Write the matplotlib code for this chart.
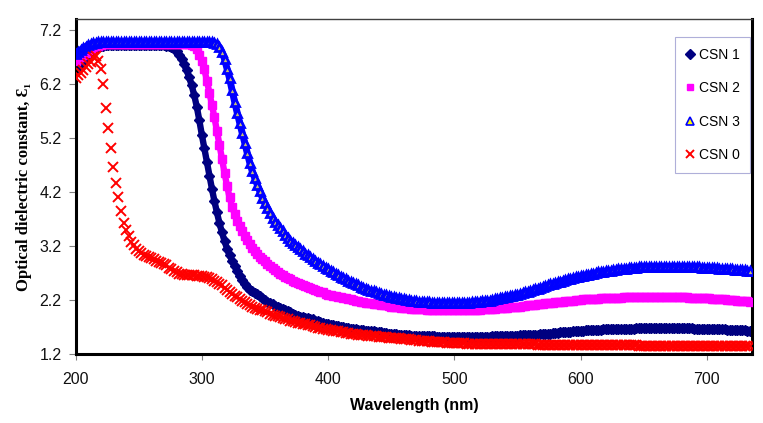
import numpy as np
import matplotlib
matplotlib.use("Agg")
import matplotlib.pyplot as plt

# ---------------- data (2 nm steps) ----------------
wavelength = np.arange(200, 736, 2)  # 200 ... 734 nm

csn1 = [
    6.43, 6.50, 6.57, 6.63, 6.69, 6.75, 6.79, 6.83, 6.86, 6.88,
    6.90, 6.91, 6.92, 6.92, 6.92, 6.92, 6.92, 6.92, 6.92, 6.92,
    6.92, 6.92, 6.92, 6.92, 6.92, 6.92, 6.92, 6.92, 6.92, 6.92,
    6.92, 6.92, 6.92, 6.92, 6.92, 6.92, 6.91, 6.90, 6.88, 6.84,
    6.80, 6.74, 6.66, 6.56, 6.45, 6.32, 6.17, 5.99, 5.78, 5.53,
    5.26, 5.01, 4.75, 4.50, 4.26, 4.03, 3.82, 3.62, 3.45, 3.29,
    3.15, 3.03, 2.93, 2.83, 2.73, 2.64, 2.57, 2.50, 2.44, 2.39,
    2.36, 2.33, 2.31, 2.27, 2.23, 2.20, 2.17, 2.15, 2.12, 2.09,
    2.07, 2.05, 2.03, 2.01, 1.99, 1.97, 1.95, 1.93, 1.91, 1.89,
    1.88, 1.87, 1.86, 1.85, 1.84, 1.82, 1.81, 1.79, 1.78, 1.76,
    1.75, 1.74, 1.73, 1.72, 1.71, 1.70, 1.70, 1.69, 1.68, 1.67,
    1.66, 1.66, 1.65, 1.65, 1.64, 1.63, 1.63, 1.62, 1.62, 1.61,
    1.60, 1.60, 1.59, 1.59, 1.58, 1.58, 1.57, 1.57, 1.56, 1.56,
    1.55, 1.55, 1.55, 1.54, 1.54, 1.54, 1.54, 1.53, 1.53, 1.53,
    1.53, 1.53, 1.53, 1.52, 1.52, 1.52, 1.52, 1.52, 1.52, 1.52,
    1.52, 1.52, 1.52, 1.52, 1.52, 1.52, 1.52, 1.52, 1.52, 1.52,
    1.52, 1.52, 1.52, 1.52, 1.52, 1.53, 1.53, 1.53, 1.53, 1.53,
    1.53, 1.53, 1.54, 1.54, 1.54, 1.54, 1.55, 1.55, 1.55, 1.55,
    1.55, 1.56, 1.56, 1.56, 1.57, 1.57, 1.58, 1.58, 1.58, 1.59,
    1.59, 1.59, 1.60, 1.60, 1.61, 1.61, 1.61, 1.62, 1.62, 1.63,
    1.63, 1.63, 1.64, 1.64, 1.64, 1.65, 1.65, 1.65, 1.65, 1.66,
    1.66, 1.66, 1.66, 1.66, 1.67, 1.67, 1.67, 1.67, 1.67, 1.67,
    1.67, 1.67, 1.68, 1.68, 1.68, 1.68, 1.68, 1.68, 1.68, 1.68,
    1.68, 1.68, 1.68, 1.68, 1.68, 1.68, 1.68, 1.68, 1.68, 1.68,
    1.68, 1.68, 1.68, 1.68, 1.68, 1.67, 1.67, 1.67, 1.67, 1.67,
    1.67, 1.67, 1.67, 1.66, 1.66, 1.66, 1.66, 1.66, 1.65, 1.65,
    1.65, 1.65, 1.64, 1.64, 1.64, 1.64, 1.63, 1.63,
]

csn2 = [
    6.62, 6.66, 6.70, 6.74, 6.78, 6.82, 6.85, 6.88, 6.90, 6.91,
    6.92, 6.93, 6.93, 6.93, 6.93, 6.93, 6.93, 6.93, 6.93, 6.93,
    6.93, 6.93, 6.93, 6.93, 6.93, 6.93, 6.93, 6.93, 6.93, 6.93,
    6.93, 6.93, 6.93, 6.93, 6.93, 6.93, 6.93, 6.93, 6.93, 6.93,
    6.93, 6.93, 6.93, 6.93, 6.93, 6.93, 6.92, 6.90, 6.84, 6.74,
    6.62, 6.47, 6.26, 6.04, 5.81, 5.58, 5.33, 5.07, 4.81, 4.55,
    4.31, 4.10, 3.93, 3.79, 3.67, 3.57, 3.48, 3.39, 3.31, 3.23,
    3.16, 3.10, 3.05, 3.00, 2.96, 2.92, 2.87, 2.83, 2.79, 2.75,
    2.72, 2.69, 2.66, 2.63, 2.61, 2.58, 2.56, 2.53, 2.51, 2.49,
    2.47, 2.46, 2.44, 2.42, 2.41, 2.39, 2.37, 2.35, 2.34, 2.32,
    2.30, 2.29, 2.28, 2.27, 2.26, 2.25, 2.24, 2.23, 2.22, 2.21,
    2.20, 2.19, 2.18, 2.17, 2.16, 2.15, 2.15, 2.14, 2.13, 2.12,
    2.12, 2.11, 2.10, 2.10, 2.09, 2.08, 2.08, 2.07, 2.07, 2.06,
    2.06, 2.05, 2.05, 2.04, 2.04, 2.04, 2.03, 2.03, 2.03, 2.02,
    2.02, 2.02, 2.02, 2.01, 2.01, 2.01, 2.01, 2.01, 2.01, 2.01,
    2.01, 2.01, 2.01, 2.01, 2.02, 2.02, 2.02, 2.02, 2.02, 2.02,
    2.02, 2.03, 2.03, 2.03, 2.04, 2.04, 2.04, 2.05, 2.05, 2.06,
    2.06, 2.06, 2.07, 2.07, 2.08, 2.08, 2.08, 2.09, 2.09, 2.10,
    2.10, 2.11, 2.11, 2.12, 2.12, 2.13, 2.14, 2.14, 2.15, 2.15,
    2.16, 2.16, 2.17, 2.17, 2.18, 2.18, 2.19, 2.19, 2.20, 2.20,
    2.20, 2.21, 2.21, 2.21, 2.22, 2.22, 2.22, 2.22, 2.23, 2.23,
    2.23, 2.23, 2.24, 2.24, 2.24, 2.24, 2.24, 2.25, 2.25, 2.25,
    2.25, 2.25, 2.25, 2.25, 2.26, 2.26, 2.26, 2.26, 2.26, 2.26,
    2.26, 2.26, 2.26, 2.26, 2.26, 2.26, 2.26, 2.25, 2.25, 2.25,
    2.25, 2.25, 2.25, 2.24, 2.24, 2.24, 2.24, 2.23, 2.23, 2.23,
    2.23, 2.23, 2.22, 2.22, 2.22, 2.21, 2.21, 2.21, 2.20, 2.20,
    2.20, 2.20, 2.19, 2.19, 2.18, 2.18, 2.18, 2.17,
]

csn3 = [
    6.75, 6.79, 6.83, 6.86, 6.89, 6.92, 6.94, 6.95, 6.96, 6.97,
    6.97, 6.97, 6.97, 6.97, 6.97, 6.97, 6.97, 6.97, 6.97, 6.97,
    6.97, 6.97, 6.97, 6.97, 6.97, 6.97, 6.97, 6.97, 6.97, 6.97,
    6.97, 6.97, 6.97, 6.97, 6.97, 6.97, 6.97, 6.97, 6.97, 6.97,
    6.97, 6.97, 6.97, 6.97, 6.97, 6.97, 6.97, 6.97, 6.97, 6.97,
    6.97, 6.97, 6.97, 6.97, 6.97, 6.96, 6.93, 6.88, 6.79, 6.66,
    6.48, 6.30, 6.08, 5.87, 5.67, 5.48, 5.29, 5.11, 4.92, 4.74,
    4.58, 4.45, 4.33, 4.21, 4.09, 3.99, 3.90, 3.81, 3.72, 3.65,
    3.59, 3.53, 3.47, 3.41, 3.35, 3.30, 3.26, 3.22, 3.18, 3.14,
    3.10, 3.06, 3.03, 2.99, 2.96, 2.93, 2.89, 2.86, 2.83, 2.80,
    2.77, 2.74, 2.71, 2.68, 2.66, 2.63, 2.60, 2.58, 2.55, 2.53,
    2.51, 2.49, 2.47, 2.45, 2.43, 2.41, 2.39, 2.37, 2.36, 2.34,
    2.33, 2.31, 2.30, 2.29, 2.27, 2.26, 2.25, 2.24, 2.23, 2.22,
    2.21, 2.20, 2.20, 2.19, 2.18, 2.18, 2.17, 2.17, 2.16, 2.16,
    2.16, 2.15, 2.15, 2.15, 2.14, 2.14, 2.14, 2.14, 2.14, 2.14,
    2.14, 2.14, 2.14, 2.14, 2.15, 2.15, 2.15, 2.16, 2.16, 2.17,
    2.17, 2.18, 2.18, 2.19, 2.19, 2.20, 2.21, 2.22, 2.23, 2.24,
    2.25, 2.26, 2.27, 2.28, 2.29, 2.30, 2.31, 2.33, 2.34, 2.35,
    2.37, 2.38, 2.40, 2.41, 2.43, 2.44, 2.46, 2.47, 2.49, 2.50,
    2.51, 2.53, 2.54, 2.56, 2.57, 2.58, 2.59, 2.61, 2.62, 2.63,
    2.64, 2.65, 2.66, 2.67, 2.68, 2.69, 2.70, 2.71, 2.71, 2.72,
    2.73, 2.74, 2.74, 2.75, 2.76, 2.77, 2.77, 2.78, 2.78, 2.79,
    2.80, 2.80, 2.80, 2.81, 2.81, 2.81, 2.81, 2.82, 2.82, 2.82,
    2.82, 2.82, 2.82, 2.82, 2.82, 2.82, 2.82, 2.82, 2.82, 2.82,
    2.82, 2.82, 2.82, 2.81, 2.81, 2.81, 2.81, 2.81, 2.80, 2.80,
    2.80, 2.80, 2.79, 2.79, 2.79, 2.78, 2.78, 2.78, 2.77, 2.77,
    2.77, 2.76, 2.76, 2.76, 2.75, 2.75, 2.74, 2.74,
]

csn0 = [
    6.31, 6.36, 6.40, 6.46, 6.52, 6.56, 6.61, 6.70, 6.72, 6.62,
    6.48, 6.20, 5.76, 5.38, 5.02, 4.67, 4.36, 4.10, 3.84, 3.63,
    3.50, 3.38, 3.28, 3.21, 3.15, 3.11, 3.07, 3.04, 3.02, 2.99,
    2.97, 2.95, 2.92, 2.90, 2.88, 2.86, 2.84, 2.80, 2.77, 2.74,
    2.71, 2.69, 2.68, 2.67, 2.67, 2.66, 2.66, 2.66, 2.65, 2.65,
    2.64, 2.63, 2.62, 2.61, 2.59, 2.56, 2.53, 2.50, 2.47, 2.43,
    2.39, 2.35, 2.31, 2.28, 2.25, 2.22, 2.19, 2.16, 2.13, 2.10,
    2.08, 2.06, 2.04, 2.02, 2.01, 1.99, 1.97, 1.95, 1.93, 1.91,
    1.90, 1.88, 1.87, 1.85, 1.84, 1.82, 1.81, 1.80, 1.78, 1.77,
    1.76, 1.75, 1.74, 1.73, 1.71, 1.70, 1.69, 1.68, 1.67, 1.66,
    1.65, 1.64, 1.63, 1.62, 1.62, 1.61, 1.60, 1.59, 1.59, 1.58,
    1.57, 1.57, 1.56, 1.56, 1.55, 1.55, 1.54, 1.54, 1.53, 1.53,
    1.52, 1.52, 1.51, 1.51, 1.50, 1.50, 1.50, 1.49, 1.49, 1.48,
    1.48, 1.47, 1.47, 1.46, 1.46, 1.46, 1.45, 1.45, 1.44, 1.44,
    1.44, 1.43, 1.43, 1.43, 1.42, 1.42, 1.42, 1.41, 1.41, 1.41,
    1.40, 1.40, 1.40, 1.40, 1.40, 1.39, 1.39, 1.39, 1.39, 1.39,
    1.39, 1.39, 1.39, 1.39, 1.38, 1.38, 1.38, 1.38, 1.38, 1.38,
    1.38, 1.38, 1.38, 1.38, 1.38, 1.38, 1.38, 1.38, 1.38, 1.38,
    1.38, 1.38, 1.38, 1.37, 1.37, 1.37, 1.37, 1.37, 1.37, 1.37,
    1.37, 1.37, 1.37, 1.37, 1.37, 1.37, 1.37, 1.37, 1.37, 1.37,
    1.37, 1.37, 1.37, 1.37, 1.37, 1.36, 1.36, 1.36, 1.36, 1.36,
    1.36, 1.36, 1.36, 1.36, 1.36, 1.36, 1.36, 1.36, 1.36, 1.36,
    1.36, 1.36, 1.36, 1.35, 1.35, 1.35, 1.35, 1.35, 1.35, 1.35,
    1.35, 1.35, 1.35, 1.35, 1.35, 1.35, 1.35, 1.35, 1.35, 1.35,
    1.35, 1.35, 1.35, 1.35, 1.35, 1.34, 1.34, 1.34, 1.34, 1.34,
    1.34, 1.34, 1.34, 1.34, 1.34, 1.34, 1.34, 1.34, 1.34, 1.34,
    1.34, 1.34, 1.34, 1.34, 1.34, 1.34, 1.34, 1.34,
]

series_labels = ["CSN 1", "CSN 2", "CSN 3", "CSN 0"]
x_ticks = [200, 300, 400, 500, 600, 700]
y_ticks = [1.2, 2.2, 3.2, 4.2, 5.2, 6.2, 7.2]

# ---------------- figure ----------------
fig = plt.figure(figsize=(7.63, 4.23), dpi=100)
ax = fig.add_axes([0.099, 0.163, 0.887, 0.792])

sans = ["Liberation Sans", "DejaVu Sans"]
serif = ["Liberation Serif", "DejaVu Serif"]

# CSN 1 - navy diamonds
ax.plot(wavelength, csn1, color="#000080", lw=4.6, zorder=2, solid_capstyle="round")
ax.plot(wavelength, csn1, ls="none", marker="D", ms=5.6, color="#000080",
        mec="#000080", zorder=2.1, label=series_labels[0])
# CSN 2 - magenta squares
ax.plot(wavelength, csn2, color="#ff00ff", lw=4.6, zorder=3, solid_capstyle="round")
ax.plot(wavelength, csn2, ls="none", marker="s", ms=5.4, color="#ff00ff",
        mec="#ff00ff", zorder=3.1, label=series_labels[1])
# CSN 3 - blue triangles, yellow face
ax.plot(wavelength, csn3, color="#0000ff", lw=5.0, zorder=4, solid_capstyle="round")
ax.plot(wavelength, csn3, ls="none", marker="^", ms=6.0, mfc="#c8c070",
        mec="#0000ff", mew=2.0, zorder=4.1, label=series_labels[2])
# CSN 0 - red crosses
ax.plot(wavelength, csn0, ls="none", marker="x", ms=6.6, color="#ff0000",
        mew=1.4, zorder=5, label=series_labels[3])

ax.set_xlim(200, 736)
ax.set_ylim(1.2, 7.4)
ax.set_xticks(x_ticks)
ax.set_yticks(y_ticks)
ax.set_yticklabels([f"{v:.1f}" for v in y_ticks])

for lab in ax.get_xticklabels() + ax.get_yticklabels():
    lab.set_family(sans)
    lab.set_fontsize(11.5)
    lab.set_color("#111111")

ax.tick_params(axis="x", direction="out", length=4, width=0.8, color="#808080", pad=9)
ax.tick_params(axis="y", direction="out", length=5, width=0.8, color="#808080", pad=5)

for side in ["left", "bottom", "right"]:
    ax.spines[side].set_linewidth(2.2)
    ax.spines[side].set_color("black")
ax.spines["top"].set_linewidth(1.0)
ax.spines["top"].set_color("#404040")

ax.set_xlabel("Wavelength (nm)", family=sans, fontweight="bold", fontsize=11.5, labelpad=8)
ax.set_ylabel("Optical dielectric constant, Ɛ\u2081", family=serif, fontweight="bold",
              fontsize=12, labelpad=5)

leg = ax.legend(loc="upper left", bbox_to_anchor=(0.886, 0.945), borderaxespad=0,
                frameon=True, fancybox=False, prop={"family": sans, "size": 10},
                labelspacing=1.4, handlelength=0.6, handletextpad=0.35,
                borderpad=0.75, markerscale=0.85)
leg.get_frame().set_edgecolor("#9b9bd0")
leg.get_frame().set_linewidth(0.8)
for h in leg.legend_handles:
    if h.get_marker() == "^":
        h.set_markerfacecolor("#ffff00")
        h.set_markeredgewidth(1.2)

fig.savefig("out.png", dpi=100)
